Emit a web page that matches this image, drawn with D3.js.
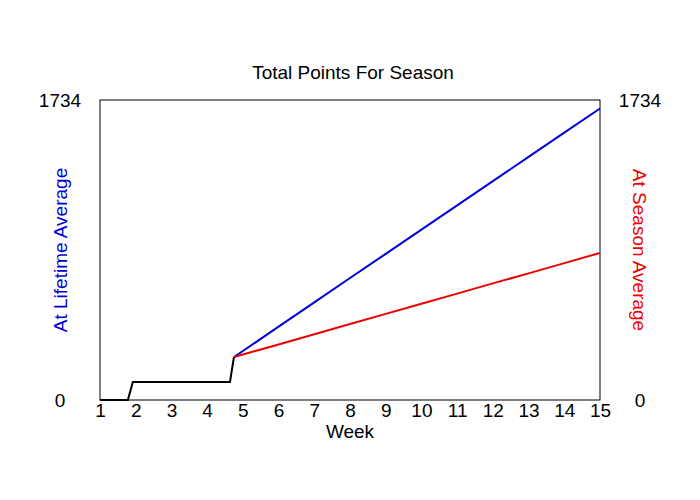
<!DOCTYPE html>
<html>
<head>
<meta charset="utf-8">
<script src="https://cdn.jsdelivr.net/npm/d3@7"></script>
<style>
    body { margin: 0; background: #fff; }
    text { font-family: "Liberation Sans", Arial, sans-serif; }
</style>
</head>
<body>
<div id="chart"></div>
<script>
// data
const weekTicks = [1, 2, 3, 4, 5, 6, 7, 8, 9, 10, 11, 12, 13, 14, 15];
const yMax = 1734;

// actual points so far (black)
const actualWeeks = [1, 1.78, 1.92, 4.64, 4.75];
const actualPoints = [0, 0, 104, 104, 248];

// projections from week 4.75 on
const projWeeks = [4.75, 5, 6, 7, 8, 9, 10, 11, 12, 13, 14, 15];
const lifetimeAvg = [248, 283, 424, 564, 705, 845, 985, 1125, 1265, 1405, 1545, 1685];
const seasonAvg = [248, 263, 321, 380, 439, 498, 556, 615, 674, 732, 791, 850];

const width = 700;
const height = 500;
const margin = { top: 100, right: 100, bottom: 100, left: 100 };
const fontSize = 19;

const x = d3.scaleLinear()
    .domain([1, 15])
    .range([margin.left, width - margin.right]);

const y = d3.scaleLinear()
    .domain([0, yMax])
    .range([height - margin.bottom, margin.top]);

const svg = d3.select("#chart").append("svg")
    .attr("width", width)
    .attr("height", height);

const line = d3.line()
    .x(d => x(d[0]))
    .y(d => y(d[1]));

// plot frame
svg.append("rect")
    .attr("x", margin.left)
    .attr("y", margin.top)
    .attr("width", width - margin.left - margin.right)
    .attr("height", height - margin.top - margin.bottom)
    .attr("fill", "none")
    .attr("stroke", "black")
    .attr("stroke-width", 1);

// x axis labels, no tick marks
const xAxis = svg.append("g")
    .attr("transform", `translate(0,${height - margin.bottom})`)
    .call(d3.axisBottom(x).tickValues(weekTicks).tickFormat(d3.format("d")).tickSize(0).tickPadding(0));
xAxis.select(".domain").remove();
xAxis.selectAll("text")
    .attr("y", 17)
    .attr("dy", null)
    .attr("font-size", fontSize)
    .attr("font-family", "Liberation Sans, Arial, sans-serif")
    .attr("fill", "black");

// y labels only at 0 and max, both sides
const yTicks = [0, yMax];
[60, 640].forEach(cx => {
    svg.append("g")
        .selectAll("text")
        .data(yTicks)
        .join("text")
        .attr("x", cx)
        .attr("y", d => y(d))
        .attr("dy", "0.35em")
        .attr("text-anchor", "middle")
        .attr("font-size", fontSize)
        .text(d => d);
});

// lines
svg.append("path")
    .datum(projWeeks.map((w, i) => [w, lifetimeAvg[i]]))
    .attr("fill", "none")
    .attr("stroke", "#0000dd")
    .attr("stroke-width", 2)
    .attr("d", line);

svg.append("path")
    .datum(projWeeks.map((w, i) => [w, seasonAvg[i]]))
    .attr("fill", "none")
    .attr("stroke", "#ee0000")
    .attr("stroke-width", 2)
    .attr("d", line);

svg.append("path")
    .datum(actualWeeks.map((w, i) => [w, actualPoints[i]]))
    .attr("fill", "none")
    .attr("stroke", "black")
    .attr("stroke-width", 2)
    .attr("d", line);

// titles
svg.append("text")
    .attr("x", 353)
    .attr("y", 79)
    .attr("text-anchor", "middle")
    .attr("font-size", fontSize)
    .text("Total Points For Season");

svg.append("text")
    .attr("x", 350)
    .attr("y", 438)
    .attr("text-anchor", "middle")
    .attr("font-size", fontSize)
    .text("Week");

svg.append("text")
    .attr("transform", "translate(67,250) rotate(-90)")
    .attr("text-anchor", "middle")
    .attr("font-size", fontSize)
    .attr("fill", "#0000dd")
    .text("At Lifetime Average");

svg.append("text")
    .attr("transform", "translate(633,250) rotate(90)")
    .attr("text-anchor", "middle")
    .attr("font-size", fontSize)
    .attr("fill", "#ee0000")
    .text("At Season Average");
</script>
</body>
</html>
